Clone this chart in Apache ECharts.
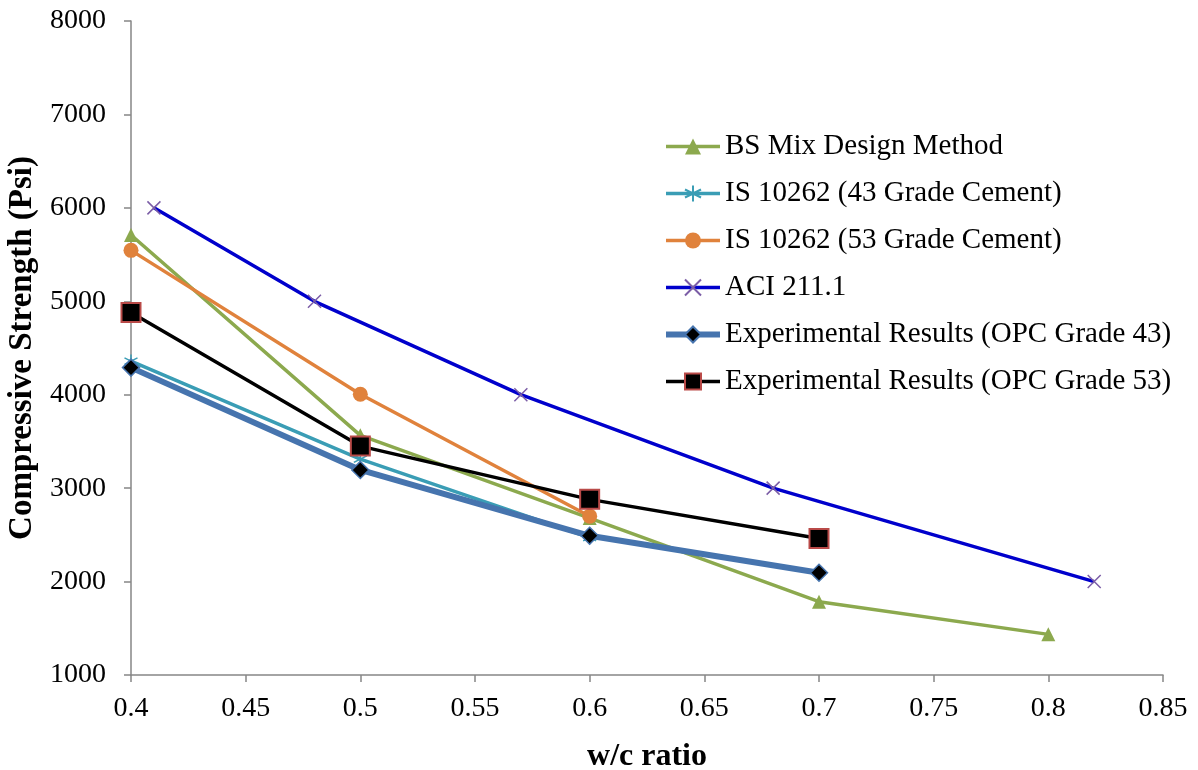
<!DOCTYPE html>
<html>
<head>
<meta charset="utf-8">
<script src="https://cdn.jsdelivr.net/npm/echarts@6/dist/echarts.min.js"></script>
<style>
html,body{margin:0;padding:0;background:#fff;}
#main{width:1198px;height:770px;}
</style>
</head>
<body>
<div id="main"></div>
<script>
// data
var bsX = [0.4, 0.5, 0.6, 0.7, 0.8];
var bsY = [5710, 3565, 2680, 1785, 1435];
var is43X = [0.4, 0.5, 0.6];
var is43Y = [4360, 3310, 2470];
var is53X = [0.4, 0.5, 0.6];
var is53Y = [5545, 4005, 2700];
var aciX = [0.41, 0.48, 0.57, 0.68, 0.82];
var aciY = [6000, 5000, 4000, 3000, 2000];
var exp43X = [0.4, 0.5, 0.6, 0.7];
var exp43Y = [4290, 3195, 2490, 2095];
var exp53X = [0.4, 0.5, 0.6, 0.7];
var exp53Y = [4880, 3450, 2880, 2460];
var names = ['BS Mix Design Method', 'IS 10262 (43 Grade Cement)', 'IS 10262 (53 Grade Cement)',
  'ACI 211.1', 'Experimental Results (OPC Grade 43)', 'Experimental Results (OPC Grade 53)'];

function pairs(xs, ys) {
  return xs.map(function (x, i) { return [x, ys[i]]; });
}

var font = '"Liberation Serif", "Times New Roman", serif';
var myChart = echarts.init(document.getElementById('main'));

// 图例里的线宽
var legendWidths = [3.5, 3.5, 3.5, 3.5, 6, 3.5];

var option = {
  backgroundColor: '#fff',
  animation: false,
  textStyle: { fontFamily: font },
  grid: { left: 131, right: 35, top: 21, bottom: 95, outerBoundsMode: 'none', containLabel: false },
  legend: {
    orient: 'vertical',
    left: 658,
    top: 127,
    itemWidth: 54,
    itemHeight: 20,
    itemGap: 18,
    lineStyle: { width: 3.5 },
    textStyle: { fontFamily: font, fontSize: 29, color: '#000' },
    data: names.map(function (n, i) {
      return { name: n, lineStyle: { width: legendWidths[i] } };
    })
  },
  xAxis: {
    type: 'value',
    min: 0.4, max: 0.85, interval: 0.05,
    name: 'w/c ratio',
    nameLocation: 'middle',
    nameGap: 66,
    nameTextStyle: { fontFamily: font, fontSize: 32, fontWeight: 'bold', color: '#000' },
    splitLine: { show: false },
    axisLine: { lineStyle: { color: '#868686', width: 1.5 } },
    axisTick: { lineStyle: { color: '#868686', width: 1.5 }, length: 7 },
    axisLabel: {
      fontFamily: font, fontSize: 28, color: '#000', margin: 20,
      formatter: function (v) { return String(+v.toFixed(2)); }
    }
  },
  yAxis: {
    type: 'value',
    min: 1000, max: 8000, interval: 1000,
    name: 'Compressive Strength (Psi)',
    nameLocation: 'middle',
    nameGap: 92,
    nameTextStyle: { fontFamily: font, fontSize: 33, fontWeight: 'bold', color: '#000' },
    splitLine: { show: false },
    axisLine: { show: true, lineStyle: { color: '#868686', width: 1.5 } },
    axisTick: { show: true, lineStyle: { color: '#868686', width: 1.5 }, length: 7 },
    axisLabel: {
      fontFamily: font, fontSize: 28, color: '#000', margin: 25,
      formatter: function (v) { return String(v); }
    }
  },
  series: [
    {
      name: names[0], type: 'line', data: pairs(bsX, bsY),
      symbol: 'triangle', symbolSize: 14,
      lineStyle: { color: '#8CA94E', width: 3.5 },
      itemStyle: { color: '#8CA94E' }
    },
    {
      name: names[1], type: 'line', data: pairs(is43X, is43Y),
      symbol: 'path://M5,0L5,10M0.7,2.5L9.3,7.5M0.7,7.5L9.3,2.5', symbolSize: 13,
      lineStyle: { color: '#3A9DB5', width: 3.5 },
      itemStyle: { color: '#3A9DB5', borderColor: '#3A9DB5', borderWidth: 1.5 }
    },
    {
      name: names[2], type: 'line', data: pairs(is53X, is53Y),
      symbol: 'circle', symbolSize: 15,
      lineStyle: { color: '#E0823C', width: 3.5 },
      itemStyle: { color: '#E0823C' }
    },
    {
      name: names[3], type: 'line', data: pairs(aciX, aciY),
      symbol: 'path://M0,0L10,10M10,0L0,10', symbolSize: 13,
      lineStyle: { color: '#0000CC', width: 3.5 },
      itemStyle: { color: '#7B5DA6', borderColor: '#7B5DA6', borderWidth: 1.5 }
    },
    {
      name: names[4], type: 'line', data: pairs(exp43X, exp43Y),
      symbol: 'diamond', symbolSize: 17,
      lineStyle: { color: '#4674AE', width: 6 },
      itemStyle: { color: '#000', borderColor: '#4674AE', borderWidth: 1.5 }
    },
    {
      name: names[5], type: 'line', data: pairs(exp53X, exp53Y),
      symbol: 'rect', symbolSize: 19,
      lineStyle: { color: '#000', width: 3.5 },
      itemStyle: { color: '#000', borderColor: '#B94A48', borderWidth: 2 }
    }
  ]
};

myChart.setOption(option);
</script>
</body>
</html>
